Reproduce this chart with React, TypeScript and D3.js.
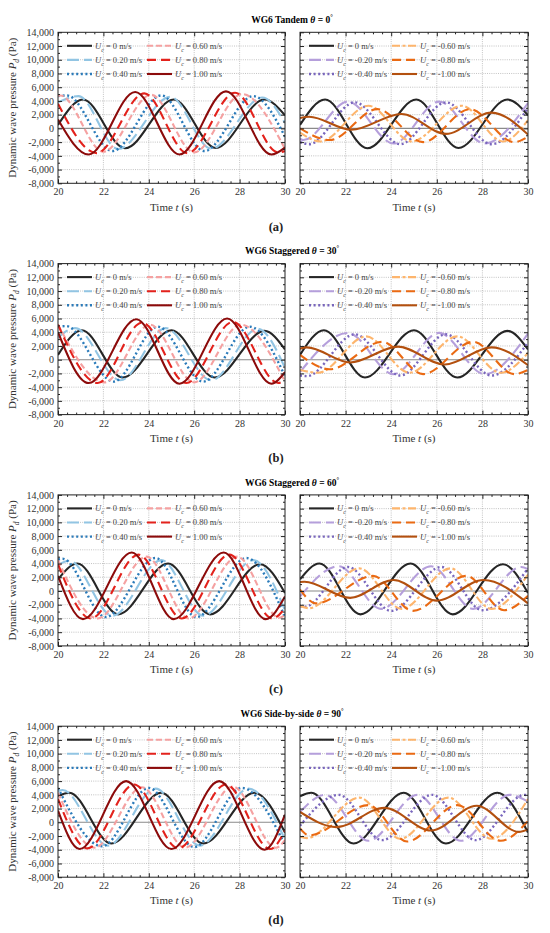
import React, { useEffect, useRef } from 'react';
import * as d3 from 'd3';

// panel headings
const panelNames = ['Tandem', 'Staggered', 'Staggered', 'Side-by-side'];
const panelAngles = [0, 30, 60, 90];
const panelLabels = ['a', 'b', 'c', 'd'];

// current speeds (legend)
const followLabels = ['0', '0.20', '0.40', '0.60', '0.80', '1.00'];
const opposeLabels = ['0', '-0.20', '-0.40', '-0.60', '-0.80', '-1.00'];

const X_TICKS = [20, 22, 24, 26, 28, 30];
const Y_TICKS = [-8000, -6000, -4000, -2000, 0, 2000, 4000, 6000, 8000, 10000, 12000, 14000];

// [t (s), Pd (Pa)] read at ends and crests/troughs, one list per Uc
const tandemFollow = [
  [[20, 500], [21.1, 4200], [22.95, -2900], [25.1, 4200], [26.95, -2850], [29.1, 4200], [30, 1900]],
  [[20, 3800], [20.9, 4700], [22.65, -3000], [24.95, 4600], [26.75, -2950], [29.0, 4500], [30, 800]],
  [[20, 4700], [20.4, 4800], [22.4, -3300], [24.55, 4800], [26.45, -3300], [28.6, 4700], [30, -1200]],
  [[20, 4700], [20.1, 4800], [22.0, -3400], [24.1, 4900], [26.0, -3500], [28.1, 5000], [30, -3000]],
  [[20, 3600], [21.7, -3600], [23.8, 5100], [25.7, -3600], [27.8, 5200], [29.7, -3500], [30, -3300]],
  [[20, 1300], [21.35, -3800], [23.4, 5300], [25.35, -3800], [27.4, 5400], [29.4, -3800], [30, -2800]],
];
const tandemOppose = [
  [[20, 500], [21.1, 4200], [22.95, -2900], [25.1, 4200], [26.95, -2850], [29.1, 4200], [30, 1900]],
  [[20, -1500], [20.15, -1700], [22.1, 3900], [24.1, -2200], [26.1, 3900], [28.1, -2200], [30, 3700]],
  [[20, -2000], [20.4, -2300], [22.4, 3800], [24.4, -2300], [26.4, 3800], [28.4, -2300], [30, 3000]],
  [[20, -600], [20.9, -1900], [23.0, 3300], [24.9, -1900], [27.1, 3300], [28.9, -1900], [30, 1200]],
  [[20, 0], [21.3, -1700], [23.4, 2800], [25.4, -2000], [27.45, 2800], [29.4, -2000], [30, -1200]],
  [[20, 1500], [20.4, 1700], [22.25, -200], [24.45, 2100], [26.4, -800], [28.4, 2300], [30, -900]],
];
const stag30Follow = [
  [[20, 700], [21.05, 4300], [22.85, -2600], [25.0, 4300], [26.9, -2600], [29.1, 4200], [30, 1500]],
  [[20, 3200], [20.75, 4600], [22.75, -3000], [24.75, 4600], [26.75, -3000], [28.8, 4500], [30, -1200]],
  [[20, 4800], [20.35, 4900], [22.45, -3200], [24.4, 4800], [26.4, -3200], [28.45, 4800], [30, -2400]],
  [[20, 5100], [22.05, -3300], [24.05, 5100], [26.0, -3300], [28.05, 5100], [30, -3200]],
  [[20, 5100], [21.75, -3400], [23.7, 5400], [25.65, -3400], [27.7, 5500], [29.7, -3400], [30, -3000]],
  [[20, 4000], [21.35, -3400], [23.45, 5900], [25.35, -3500], [27.45, 6000], [29.4, -3500], [30, -1800]],
];
const stag30Oppose = [
  [[20, 700], [21.05, 4300], [22.85, -2600], [25.0, 4300], [26.9, -2600], [29.1, 4200], [30, 1500]],
  [[20, -1800], [22.1, 3900], [24.1, -2100], [26.1, 3900], [28.1, -2100], [30, 3800]],
  [[20, -2300], [20.3, -2400], [22.4, 3700], [24.4, -2300], [26.4, 3700], [28.4, -2300], [30, 2500]],
  [[20, -1500], [20.8, -1900], [22.9, 3400], [24.8, -1900], [26.9, 3400], [28.8, -1900], [30, 1000]],
  [[20, 700], [21.3, -1400], [23.6, 2600], [25.4, -2100], [27.6, 2600], [29.4, -2100], [30, -1500]],
  [[20, 1600], [20.3, 1800], [22.2, -400], [24.3, 1900], [26.35, -700], [28.4, 1800], [30, -800]],
];
const stag60Follow = [
  [[20, 1700], [20.85, 4000], [22.65, -3400], [24.85, 4000], [26.7, -3400], [28.9, 3900], [30, -300]],
  [[20, 3800], [20.5, 4400], [22.4, -3600], [24.55, 4500], [26.4, -3600], [28.6, 4500], [30, -2800]],
  [[20, 4600], [20.2, 4700], [22.1, -3800], [24.3, 4800], [26.1, -3800], [28.3, 4800], [30, -3800]],
  [[20, 4500], [21.75, -4000], [23.9, 5000], [25.75, -4000], [27.9, 5000], [29.75, -3900], [30, -3500]],
  [[20, 3900], [21.45, -4000], [23.55, 5300], [25.45, -4000], [27.55, 5300], [29.45, -4000], [30, -2500]],
  [[20, 2200], [21.1, -4100], [23.25, 5600], [25.1, -4100], [27.3, 5600], [29.15, -4100], [30, -800]],
];
const stag60Oppose = [
  [[20, 1700], [20.85, 4000], [22.65, -3400], [24.85, 4000], [26.7, -3400], [28.9, 3900], [30, -300]],
  [[20, -800], [21.7, 3600], [23.55, -2600], [25.75, 3600], [27.6, -2600], [29.7, 3500], [30, 3200]],
  [[20, -2200], [20.2, -2300], [22.1, 3500], [24.0, -2900], [26.2, 3500], [28.0, -2800], [30, 3300]],
  [[20, -2200], [20.4, -2500], [22.6, 3300], [24.45, -2600], [26.6, 3300], [28.4, -2600], [30, 2400]],
  [[20, 200], [20.7, -1800], [23.2, 2200], [24.95, -2900], [27.3, 2200], [28.95, -2800], [30, -700]],
  [[20, 1300], [20.2, 1350], [22.2, -1000], [24.1, 1600], [26.0, -1400], [28.05, 1600], [30, -1800]],
];
const sideFollow = [
  [[20, 3800], [20.5, 4300], [22.35, -3100], [24.55, 4300], [26.4, -3100], [28.65, 4300], [30, -1500]],
  [[20, 4500], [20.2, 4700], [22.2, -3400], [24.3, 4900], [26.25, -3400], [28.4, 4900], [30, -2500]],
  [[20, 5000], [21.95, -3500], [24.0, 5000], [26.0, -3600], [28.1, 5000], [30, -3300]],
  [[20, 4300], [21.6, -3700], [23.7, 5100], [25.6, -3700], [27.7, 5200], [29.6, -3700], [30, -2600]],
  [[20, 3400], [21.3, -3800], [23.35, 5500], [25.3, -3800], [27.4, 5500], [29.35, -3900], [30, -1200]],
  [[20, 1700], [20.95, -3900], [23.0, 6000], [25.0, -3900], [27.1, 6000], [29.1, -4000], [30, 1100]],
];
const sideOppose = [
  [[20, 3800], [20.5, 4300], [22.35, -3100], [24.55, 4300], [26.4, -3100], [28.65, 4300], [30, -1500]],
  [[20, 1500], [21.1, 4000], [23.0, -2700], [25.15, 4000], [27.05, -2700], [29.2, 4000], [30, 3000]],
  [[20, -500], [21.7, 4000], [23.6, -2600], [25.8, 4000], [27.7, -2600], [29.85, 4000], [30, 3900]],
  [[20, -2100], [20.3, -2300], [22.6, 3600], [24.4, -2400], [26.5, 3600], [28.4, -2400], [30, 3400]],
  [[20, -900], [20.4, -1900], [23.0, 2500], [24.7, -2800], [26.9, 2500], [28.8, -2700], [30, 200]],
  [[20, 1500], [21.6, -700], [23.7, 2100], [25.75, -1200], [27.75, 2400], [29.6, -1400], [30, -1000]],
];

const panelSeries = [
  [tandemFollow, tandemOppose],
  [stag30Follow, stag30Oppose],
  [stag60Follow, stag60Oppose],
  [sideFollow, sideOppose],
];

const followColors = ['#262626', '#92c5e3', '#2b7bba', '#f5a1a1', '#e3221c', '#8c0b0b'];
const opposeColors = ['#262626', '#b59fdb', '#7966bd', '#fdb56d', '#ea6a13', '#b3500f'];
const followDash = [null, '12,5', '2,2.6', '6,3', '9,5', null];
const opposeDash = [null, '12,5', '2,2.6', '8,2.5,3,2.5', '9,5', null];

const FONT = 'Liberation Serif, Times New Roman, serif';
const PANEL_H = 231.3;
const TOP = 32.3;
const BOTTOM = 183.3;
const plotX = [[58, 285], [300, 528]];
const legendCol2 = [89, 92];

const App = () => {
  const svgRef = useRef<SVGSVGElement>(null);

  useEffect(() => {
    const svg = d3.select(svgRef.current);
    svg.selectAll('*').remove();
    svg.attr('font-family', FONT);

    const fmt = (d: number) => d3.format(',')(d).replace('\u2212', '-');
    const minorX = d3.range(0, 26).map(i => 20 + i * 0.4).filter((v, i) => i % 5 !== 0);
    const minorY = d3.range(-8000, 14001, 1000).filter(v => v % 2000 !== 0);

    panelSeries.forEach((sides, k) => {
      const g = svg.append('g').attr('transform', `translate(0,${k * PANEL_H})`);

      // title
      const title = g.append('text')
        .attr('x', 292).attr('y', 23)
        .attr('text-anchor', 'middle')
        .attr('font-weight', 'bold')
        .attr('font-size', 9.5);
      title.append('tspan').text(`WG6 ${panelNames[k]} `);
      title.append('tspan').attr('font-style', 'italic').text('\u03b8');
      title.append('tspan').text(` = ${panelAngles[k]}`);
      title.append('tspan').attr('font-size', 6.5).attr('dy', -4).text('\u00b0');

      // y label
      const yl = g.append('text')
        .attr('transform', `translate(16,${(TOP + BOTTOM) / 2}) rotate(-90)`)
        .attr('text-anchor', 'middle')
        .attr('font-size', 11)
        .attr('fill', '#333');
      yl.append('tspan').text('Dynamic wave pressure ');
      yl.append('tspan').attr('font-style', 'italic').text('P');
      yl.append('tspan').attr('font-style', 'italic').attr('font-size', 7.5).attr('dy', 3).text('d');
      yl.append('tspan').attr('dy', -3).text(' (Pa)');

      // panel label
      g.append('text')
        .attr('x', 276).attr('y', 230.5)
        .attr('text-anchor', 'middle')
        .attr('font-size', 12.5)
        .attr('font-weight', 'bold')
        .attr('fill', '#222')
        .text(`(${panelLabels[k]})`);

      sides.forEach((series, s) => {
        const [x0, x1] = plotX[s];
        const x = d3.scaleLinear().domain([20, 30]).range([x0, x1]);
        const y = d3.scaleLinear().domain([-8000, 14000]).range([BOTTOM, TOP]);
        const colors = s === 0 ? followColors : opposeColors;
        const dashes = s === 0 ? followDash : opposeDash;
        const labels = s === 0 ? followLabels : opposeLabels;

        // grid
        const grid = g.append('g');
        grid.selectAll('.gx')
          .data(X_TICKS.slice(1, -1))
          .enter().append('line')
          .attr('x1', d => x(d)).attr('x2', d => x(d))
          .attr('y1', TOP).attr('y2', BOTTOM)
          .attr('stroke', '#9a9a9a').attr('stroke-width', 0.6)
          .attr('stroke-dasharray', '1,1.2');
        grid.selectAll('.gy')
          .data(Y_TICKS.slice(1, -1))
          .enter().append('line')
          .attr('x1', x0).attr('x2', x1)
          .attr('y1', d => y(d)).attr('y2', d => y(d))
          .attr('stroke', d => (d === 0 ? '#8a8a8a' : '#9a9a9a'))
          .attr('stroke-width', d => (d === 0 ? 1.1 : 0.6))
          .attr('stroke-dasharray', d => (d === 0 ? null : '1,1.2'));

        // curves
        const clipId = `clip-${k}-${s}`;
        g.append('clipPath').attr('id', clipId)
          .append('rect')
          .attr('x', x0).attr('y', TOP)
          .attr('width', x1 - x0).attr('height', BOTTOM - TOP);

        const line = d3.line<number[]>()
          .x(d => x(d[0]))
          .y(d => y(d[1]))
          .curve(d3.curveMonotoneX);

        g.append('g').attr('clip-path', `url(#${clipId})`)
          .selectAll('path')
          .data(series)
          .enter().append('path')
          .attr('d', d => line(d))
          .attr('fill', 'none')
          .attr('stroke', (d, i) => colors[i])
          .attr('stroke-width', (d, i) => (i === 2 ? 2.4 : 2.1))
          .attr('stroke-dasharray', (d, i) => dashes[i]);

        // legend
        labels.forEach((lab, i) => {
          const col = Math.floor(i / 3);
          const row = i % 3;
          const lx = x0 + (col === 0 ? 9 : legendCol2[s]);
          const ly = TOP + 13.5 + row * 14.1;
          g.append('line')
            .attr('x1', lx).attr('x2', lx + 25)
            .attr('y1', ly).attr('y2', ly)
            .attr('stroke', colors[i])
            .attr('stroke-width', i === 2 ? 2.4 : 2.1)
            .attr('stroke-dasharray', dashes[i]);
          const t = g.append('text')
            .attr('x', lx + 28).attr('y', ly + 3)
            .attr('font-size', 8.5)
            .attr('fill', '#444');
          t.append('tspan').attr('font-style', 'italic').text('U');
          t.append('tspan').attr('font-style', 'italic').attr('font-size', 6).attr('dy', 3).text('c');
          t.append('tspan').attr('dy', -3).text(` = ${lab} m/s`);
        });

        // frame
        g.append('rect')
          .attr('x', x0).attr('y', TOP)
          .attr('width', x1 - x0).attr('height', BOTTOM - TOP)
          .attr('fill', 'none').attr('stroke', '#222').attr('stroke-width', 1);

        const styleAxis = (a: any) => {
          a.select('.domain').remove();
          a.attr('font-family', FONT).attr('font-size', 10);
          a.selectAll('text').attr('fill', '#333');
          a.selectAll('line').attr('stroke', '#222');
        };

        // major + minor ticks on all sides
        g.append('g').attr('transform', `translate(0,${BOTTOM})`)
          .call(d3.axisBottom(x).tickValues(X_TICKS).tickSize(-4).tickPadding(5).tickFormat(d3.format('d')))
          .call(styleAxis);
        g.append('g').attr('transform', `translate(0,${BOTTOM})`)
          .call(d3.axisBottom(x).tickValues(minorX).tickSize(-2).tickFormat(() => ''))
          .call(styleAxis);
        g.append('g').attr('transform', `translate(0,${TOP})`)
          .call(d3.axisTop(x).tickValues(X_TICKS).tickSize(-4).tickFormat(() => ''))
          .call(styleAxis);
        g.append('g').attr('transform', `translate(0,${TOP})`)
          .call(d3.axisTop(x).tickValues(minorX).tickSize(-2).tickFormat(() => ''))
          .call(styleAxis);
        g.append('g').attr('transform', `translate(${x0},0)`)
          .call(d3.axisLeft(y).tickValues(Y_TICKS).tickSize(-4).tickPadding(4)
            .tickFormat(s === 0 ? (fmt as any) : () => ''))
          .call(styleAxis);
        g.append('g').attr('transform', `translate(${x0},0)`)
          .call(d3.axisLeft(y).tickValues(minorY).tickSize(-2).tickFormat(() => ''))
          .call(styleAxis);
        g.append('g').attr('transform', `translate(${x1},0)`)
          .call(d3.axisRight(y).tickValues(Y_TICKS).tickSize(-4).tickFormat(() => ''))
          .call(styleAxis);
        g.append('g').attr('transform', `translate(${x1},0)`)
          .call(d3.axisRight(y).tickValues(minorY).tickSize(-2).tickFormat(() => ''))
          .call(styleAxis);

        // x label
        const xl = g.append('text')
          .attr('x', (x0 + x1) / 2).attr('y', 210.5)
          .attr('text-anchor', 'middle')
          .attr('font-size', 11)
          .attr('fill', '#333');
        xl.append('tspan').text('Time ');
        xl.append('tspan').attr('font-style', 'italic').text('t');
        xl.append('tspan').text(' (s)');
      });
    });
  }, []);

  return (
    <svg
      ref={svgRef}
      width={550}
      height={933}
      style={{ position: 'absolute', left: 0, top: 0, background: '#fff' }}
    />
  );
};

export default App;
